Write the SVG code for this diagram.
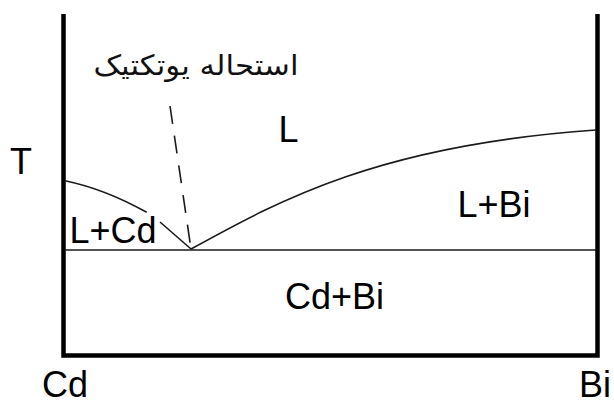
<svg xmlns="http://www.w3.org/2000/svg" width="614" height="405" viewBox="0 0 614 405">
<style>
.lbl{font-family:"Liberation Sans",Arial,sans-serif;font-size:36px;fill:#000}
.curve{fill:none;stroke:#1a1a1a;stroke-width:1.6}
.fa{font-family:"DejaVu Sans","Noto Sans",sans-serif;font-size:28px;fill:#111}
</style>
<rect width="614" height="405" fill="#fff"/>
<g id="frame">
<path d="M63.5,14 V355.5 H597.5 V14" fill="none" stroke="#000" stroke-width="4.5"/>
</g>
<g id="lines">
<line x1="65" y1="250" x2="596" y2="250" stroke="#1a1a1a" stroke-width="1.5"/>
<path class="curve" d="M65,180.7 Q105,189 146.7,212.3"/>
<path class="curve" d="M160,222 L191,249"/>
<path class="curve" d="M191,249 C280,200 380,145 596,130"/>
<path class="curve" d="M170,106 L191,249" stroke-dasharray="18,12"/>
</g>
<g id="labels">
<text class="lbl" x="21" y="174" text-anchor="middle">T</text>
<text class="lbl" x="278.5" y="142">L</text>
<text class="lbl" x="69.5" y="243">L+Cd</text>
<text class="lbl" x="457.5" y="216.5">L+Bi</text>
<text class="lbl" x="285" y="309">Cd+Bi</text>
<text class="lbl" x="42" y="397">Cd</text>
<text class="lbl" x="579" y="397">Bi</text>
<text class="fa" x="196" y="75" text-anchor="middle" direction="rtl" textLength="205" lengthAdjust="spacingAndGlyphs">استحاله یوتکتیک</text>
</g>
</svg>
